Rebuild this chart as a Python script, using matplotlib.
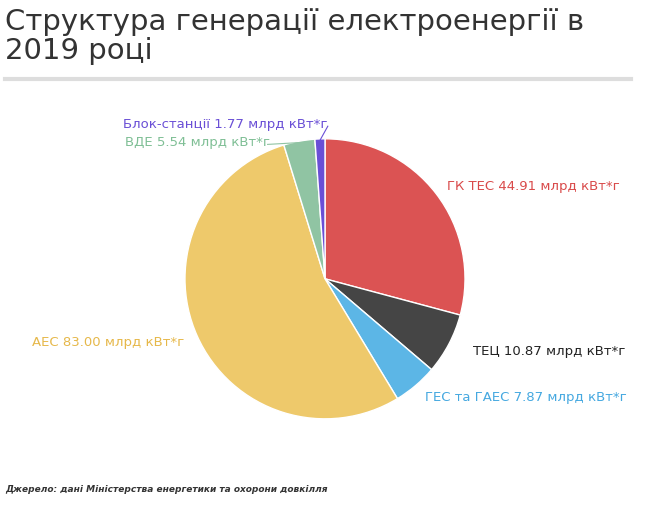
import numpy as np
import matplotlib.pyplot as plt

names = ["ГК ТЕС", "ТЕЦ", "ГЕС та ГАЕС", "АЕС", "ВДЕ", "Блок-станції"]
values = [44.91, 10.87, 7.87, 83.00, 5.54, 1.77]
colors = ["#db5353", "#454545", "#5cb6e6", "#eec96b", "#90c4a3", "#6a4fd6"]
text_colors = ["#d94a4a", "#222222", "#45a8e0", "#e6b84a", "#7fbf95", "#6a4fd6"]

fig = plt.figure(figsize=(6.5, 5.06), dpi=100)
fig.text(0.008, 0.985, "Структура генерації електроенергії в\n2019 році",
         fontsize=21, color="#333333", va="top", ha="left", linespacing=1.05)
fig.add_artist(plt.Line2D([0.008, 0.97], [0.842, 0.842], color="#dddddd", lw=3))
fig.text(0.008, 0.028, "Джерело: дані Міністерства енергетики та охорони довкілля",
         fontsize=6.5, style="italic", fontweight="bold", color="#333333")

ax = fig.add_axes([0.5 - 0.2154, 0.447 - 0.2767, 0.4308, 0.5534])
wedges, _ = ax.pie(values, colors=colors, startangle=90, counterclock=False,
                   wedgeprops=dict(edgecolor="white", linewidth=1))
ax.set_xlim(-1, 1)
ax.set_ylim(-1, 1)
ax.set_aspect("equal")
ax.axis("off")

# label anchor overrides for the thin slices at the top
overrides = {4: (-0.39, 0.98), 5: (0.02, 1.11)}
for i, w in enumerate(wedges):
    ang = np.deg2rad((w.theta1 + w.theta2) / 2)
    ex, ey = np.cos(ang), np.sin(ang)
    if i in overrides:
        tx, ty = overrides[i]
        ax.plot([0.99 * ex, tx + 0.02 * ex / abs(ex) if False else tx - 0.02 if i == 4 else tx],
                [0.99 * ey, ty - 0.02], color=colors[i], lw=0.8, clip_on=False)
    else:
        tx, ty = 1.1 * ex, 1.1 * ey
        if i == 1:
            tx += 0.08
    ha = "left" if tx > 0 and i != 5 else "right"
    if i == 5:
        ha = "right"
    ax.text(tx, ty, f"{names[i]} {values[i]:.2f} млрд кВт*г", ha=ha, va="center",
            fontsize=9.5, color=text_colors[i], clip_on=False)

fig.savefig("out.png", dpi=100)
